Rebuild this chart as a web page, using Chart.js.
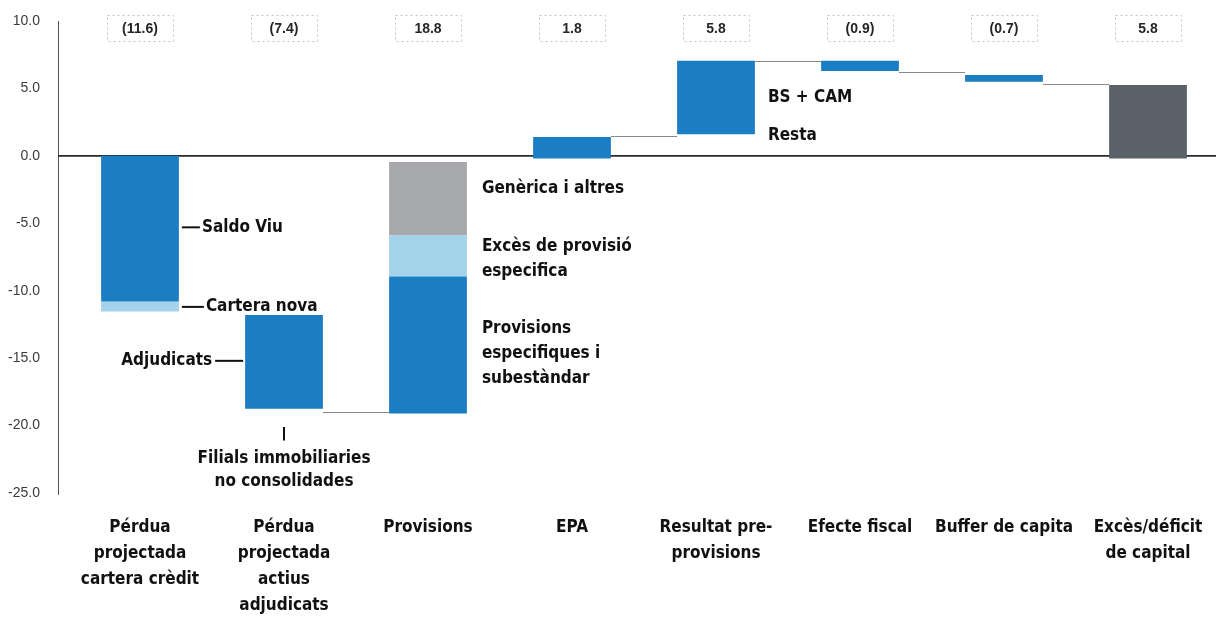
<!DOCTYPE html>
<html>
<head>
<meta charset="utf-8">
<script src="https://cdn.jsdelivr.net/npm/chart.js@4/dist/chart.umd.min.js"></script>
<style>
  html, body { margin: 0; padding: 0; background: #fff; }
  #wrap { width: 1231px; height: 617px; position: relative; }
</style>
</head>
<body>
<div id="wrap"><canvas id="waterfall"></canvas></div>
<script>
// categories (x axis)
const categories = [
    ['Pérdua', 'projectada', 'cartera crèdit'],
    ['Pérdua', 'projectada', 'actius', 'adjudicats'],
    ['Provisions'],
    ['EPA'],
    ['Resultat pre-', 'provisions'],
    ['Efecte fiscal'],
    ['Buffer de capita'],
    ['Excès/déficit', 'de capital']
];

// boxed values shown above each column
const topLabels = ['(11.6)', '(7.4)', '18.8', '1.8', '5.8', '(0.9)', '(0.7)', '5.8'];

// floating segments, start / end per column
const blueStart  = [0, -11.8, -8.95, -0.2, 1.6, 7.05, 6.0, null];
const blueEnd    = [-10.8, -18.75, -19.1, 1.4, 7.05, 6.3, 5.5, null];
const lightStart = [-10.8, null, -5.9, null, null, null, null, null];
const lightEnd   = [-11.55, null, -8.95, null, null, null, null, null];
const grayStart  = [null, null, -0.45, null, null, null, null, null];
const grayEnd    = [null, null, -5.9, null, null, null, null, null];
const totalStart = [null, null, null, null, null, null, null, -0.2];
const totalEnd   = [null, null, null, null, null, null, null, 5.25];

// connector level between column i and i+1
const connectorLevels = [null, -19.0, null, 1.5, 7.05, 6.2, 5.3];

// y axis ticks
const yTicks = [10, 5, 0, -5, -10, -15, -20, -25];

const BAR_FRAC = 0.54;
const NOTE_FONT = 'bold 17px "Liberation Sans Narrow", "DejaVu Sans Condensed", Arial, sans-serif';

function pairs(a, b) {
    return a.map((v, i) => (v === null ? null : [v, b[i]]));
}

// text notes next to the columns, positioned in data units
const notes = [
    { cat: 0, side: 'right', y: -5.3, lines: ['Saldo Viu'], leader: 18, gap: 3 },
    { cat: 0, side: 'right', y: -11.2, lines: ['Cartera nova'], leader: 22, gap: 3 },
    { cat: 1, side: 'left', y: -15.2, lines: ['Adjudicats'], leader: 28 },
    { cat: 2, side: 'right', y: -2.45, lines: ['Genèrica i altres'], gap: 15 },
    { cat: 2, side: 'right', y: -6.75, lines: ['Excès de provisió', 'especifica'], gap: 15 },
    { cat: 2, side: 'right', y: -12.8, lines: ['Provisions', 'especifiques i', 'subestàndar'], gap: 15 },
    { cat: 4, side: 'right', y: 4.3, lines: ['BS + CAM'], gap: 13 },
    { cat: 4, side: 'right', y: 1.5, lines: ['Resta'], gap: 13 }
];

const decorPlugin = {
    id: 'decor',
    beforeDatasetsDraw(chart) {
        const { ctx, chartArea, scales } = chart;
        const x = scales.x, y = scales.y;
        const axisX = chartArea.left - 10;
        const half = (x.getPixelForValue(1) - x.getPixelForValue(0)) * BAR_FRAC / 2;
        ctx.save();
        // y axis line
        ctx.strokeStyle = '#555';
        ctx.lineWidth = 1;
        ctx.beginPath();
        ctx.moveTo(axisX + 0.5, y.getPixelForValue(10));
        ctx.lineTo(axisX + 0.5, y.getPixelForValue(-25) + 2);
        ctx.stroke();
        // y tick labels
        ctx.font = '14px "Liberation Sans", Arial, sans-serif';
        ctx.fillStyle = '#3a3a3a';
        ctx.textAlign = 'right';
        ctx.textBaseline = 'middle';
        yTicks.forEach(v => ctx.fillText(v.toFixed(1), chartArea.left - 28, y.getPixelForValue(v)));
        // zero line
        ctx.strokeStyle = '#2a2a2a';
        ctx.lineWidth = 1.6;
        ctx.beginPath();
        ctx.moveTo(axisX, y.getPixelForValue(0));
        ctx.lineTo(chartArea.right - 4, y.getPixelForValue(0));
        ctx.stroke();
        // connectors between columns
        ctx.strokeStyle = '#8a8a8a';
        ctx.lineWidth = 1;
        connectorLevels.forEach((lvl, i) => {
            if (lvl === null) return;
            const py = Math.round(y.getPixelForValue(lvl)) + 0.5;
            ctx.beginPath();
            ctx.moveTo(x.getPixelForValue(i) + half, py);
            ctx.lineTo(x.getPixelForValue(i + 1) - half, py);
            ctx.stroke();
        });
        ctx.restore();
    },
    afterDatasetsDraw(chart) {
        const { ctx, scales } = chart;
        const x = scales.x, y = scales.y;
        const half = (x.getPixelForValue(1) - x.getPixelForValue(0)) * BAR_FRAC / 2;
        ctx.save();

        // boxed values
        ctx.font = 'bold 14px "Liberation Sans", Arial, sans-serif';
        ctx.textAlign = 'center';
        ctx.textBaseline = 'middle';
        topLabels.forEach((t, i) => {
            const cx = x.getPixelForValue(i);
            ctx.setLineDash([2, 3]);
            ctx.strokeStyle = '#c9c1b4';
            ctx.lineWidth = 1;
            ctx.strokeRect(Math.round(cx - 33) + 0.5, 15.5, 66, 26);
            ctx.setLineDash([]);
            ctx.fillStyle = '#262626';
            ctx.fillText(t, cx, 29);
        });

        // notes
        ctx.font = NOTE_FONT;
        ctx.fillStyle = '#111';
        ctx.strokeStyle = '#111';
        ctx.lineWidth = 2;
        notes.forEach(n => {
            const cx = x.getPixelForValue(n.cat);
            const py = y.getPixelForValue(n.y);
            if (n.side === 'right') {
                let tx = cx + half + n.gap;
                if (n.leader) {
                    ctx.beginPath();
                    ctx.moveTo(cx + half + n.gap, py);
                    ctx.lineTo(cx + half + n.gap + n.leader, py);
                    ctx.stroke();
                    tx = cx + half + n.gap + n.leader + 2;
                }
                ctx.textAlign = 'left';
                n.lines.forEach((l, k) => ctx.fillText(l, tx, py + k * 25));
            } else {
                const ex = cx - half - 2;
                ctx.beginPath();
                ctx.moveTo(ex, py);
                ctx.lineTo(ex - n.leader, py);
                ctx.stroke();
                ctx.textAlign = 'right';
                n.lines.forEach((l, k) => ctx.fillText(l, ex - n.leader - 3, py + k * 25));
            }
        });

        // Filials immobiliaries note under column 2
        const fx = x.getPixelForValue(1);
        ctx.beginPath();
        ctx.moveTo(fx, y.getPixelForValue(-20.1));
        ctx.lineTo(fx, y.getPixelForValue(-21.1));
        ctx.stroke();
        ctx.textAlign = 'center';
        ctx.fillText('Filials immobiliaries', fx, y.getPixelForValue(-22.45));
        ctx.fillText('no consolidades', fx, y.getPixelForValue(-24.15));
        ctx.restore();
    }
};

const barBase = { grouped: false, categoryPercentage: BAR_FRAC, barPercentage: 1 };

const ctx = document.getElementById('waterfall').getContext('2d');
new Chart(ctx, {
    type: 'bar',
    data: {
        labels: categories,
        datasets: [
            { ...barBase, label: 'Principal', data: pairs(blueStart, blueEnd), backgroundColor: '#1b7dc2' },
            { ...barBase, label: 'Secundari', data: pairs(lightStart, lightEnd), backgroundColor: '#a2d3ea' },
            { ...barBase, label: 'Genèrica', data: pairs(grayStart, grayEnd), backgroundColor: '#a7a8ab' },
            { ...barBase, label: 'Total', data: pairs(totalStart, totalEnd), backgroundColor: '#5b6168' }
        ]
    },
    options: {
        responsive: true,
        maintainAspectRatio: false,
        animation: false,
        layout: { padding: { top: 21, right: 11, left: 0, bottom: 0 } },
        plugins: {
            legend: { display: false },
            tooltip: { enabled: false }
        },
        scales: {
            x: {
                grid: { display: false, drawTicks: false },
                border: { display: false },
                afterFit(scale) { scale.height = 124; },
                ticks: {
                    maxRotation: 0,
                    autoSkip: false,
                    padding: 22,
                    color: '#111',
                    font: { size: 17, weight: 'bold', family: '"Liberation Sans Narrow", "DejaVu Sans Condensed", Arial', lineHeight: 1.52 }
                }
            },
            y: {
                min: -25,
                max: 10,
                grid: { display: false, drawTicks: false },
                border: { display: false },
                afterFit(scale) { scale.width = 68; },
                ticks: { display: false, padding: 0 }
            }
        }
    },
    plugins: [decorPlugin]
});
</script>
</body>
</html>
